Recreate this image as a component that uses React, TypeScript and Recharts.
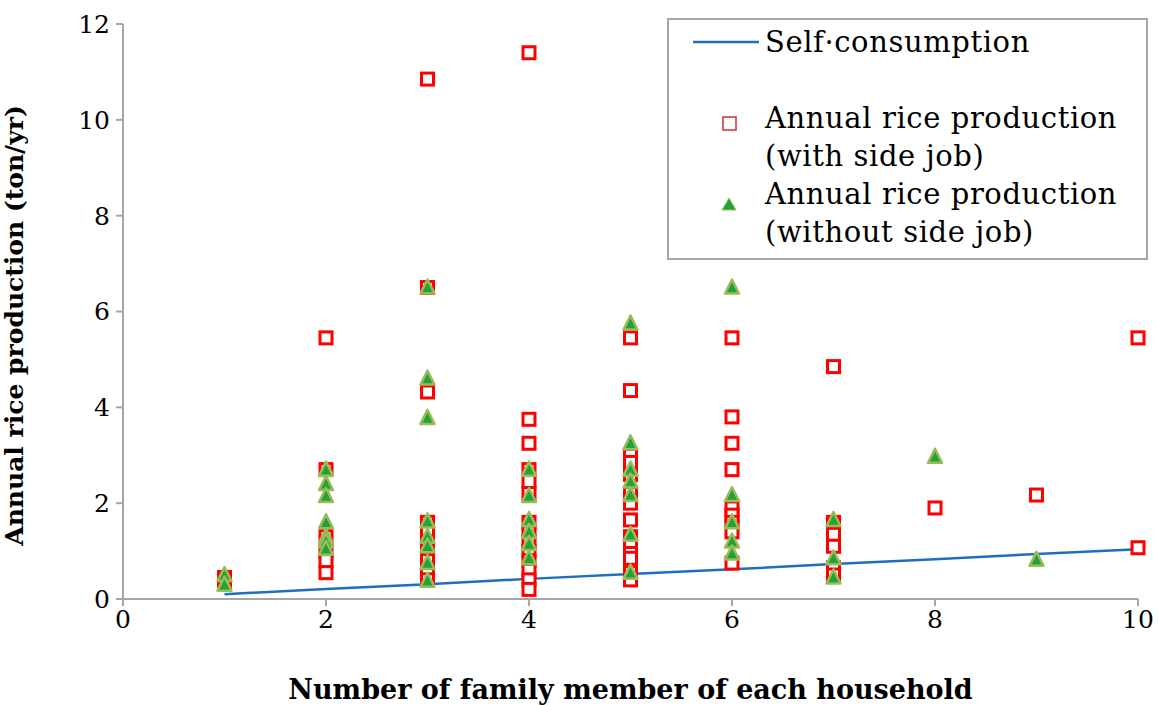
import React from 'react'
import { ScatterChart, Scatter, XAxis, YAxis, Label } from 'recharts'

// household size vs annual rice production (ton/yr)
const withSideJob = [
  { x: 1, y: 0.45 }, { x: 1, y: 0.35 },
  { x: 2, y: 5.45 }, { x: 2, y: 2.7 }, { x: 2, y: 1.3 }, { x: 2, y: 1.0 }, { x: 2, y: 0.8 }, { x: 2, y: 0.55 },
  { x: 3, y: 10.85 }, { x: 3, y: 6.5 }, { x: 3, y: 4.32 }, { x: 3, y: 1.6 }, { x: 3, y: 1.4 }, { x: 3, y: 1.2 },
  { x: 3, y: 1.0 }, { x: 3, y: 0.8 }, { x: 3, y: 0.6 }, { x: 3, y: 0.4 },
  { x: 4, y: 11.4 }, { x: 4, y: 3.75 }, { x: 4, y: 3.25 }, { x: 4, y: 2.7 }, { x: 4, y: 2.45 }, { x: 4, y: 2.2 },
  { x: 4, y: 1.6 }, { x: 4, y: 1.4 }, { x: 4, y: 1.2 }, { x: 4, y: 1.0 }, { x: 4, y: 0.8 }, { x: 4, y: 0.6 },
  { x: 4, y: 0.4 }, { x: 4, y: 0.2 },
  { x: 5, y: 5.45 }, { x: 5, y: 4.35 }, { x: 5, y: 3.0 }, { x: 5, y: 2.85 }, { x: 5, y: 2.6 }, { x: 5, y: 2.2 },
  { x: 5, y: 2.0 }, { x: 5, y: 1.65 }, { x: 5, y: 1.3 }, { x: 5, y: 1.1 }, { x: 5, y: 0.95 }, { x: 5, y: 0.85 },
  { x: 5, y: 0.55 }, { x: 5, y: 0.4 },
  { x: 6, y: 5.45 }, { x: 6, y: 3.8 }, { x: 6, y: 3.25 }, { x: 6, y: 2.7 }, { x: 6, y: 1.9 }, { x: 6, y: 1.75 },
  { x: 6, y: 1.6 }, { x: 6, y: 1.4 }, { x: 6, y: 0.75 },
  { x: 7, y: 4.85 }, { x: 7, y: 1.6 }, { x: 7, y: 1.35 }, { x: 7, y: 1.1 }, { x: 7, y: 0.65 }, { x: 7, y: 0.5 },
  { x: 8, y: 1.9 },
  { x: 9, y: 2.17 },
  { x: 10, y: 5.45 }, { x: 10, y: 1.07 },
]

const withoutSideJob = [
  { x: 1, y: 0.5 }, { x: 1, y: 0.3 },
  { x: 2, y: 2.7 }, { x: 2, y: 2.4 }, { x: 2, y: 2.15 }, { x: 2, y: 1.6 }, { x: 2, y: 1.3 }, { x: 2, y: 1.2 }, { x: 2, y: 1.05 },
  { x: 3, y: 6.5 }, { x: 3, y: 4.6 }, { x: 3, y: 3.78 }, { x: 3, y: 1.62 }, { x: 3, y: 1.3 }, { x: 3, y: 1.1 },
  { x: 3, y: 0.75 }, { x: 3, y: 0.38 },
  { x: 4, y: 2.7 }, { x: 4, y: 2.15 }, { x: 4, y: 1.65 }, { x: 4, y: 1.4 }, { x: 4, y: 1.15 }, { x: 4, y: 0.85 },
  { x: 5, y: 5.75 }, { x: 5, y: 3.25 }, { x: 5, y: 2.7 }, { x: 5, y: 2.45 }, { x: 5, y: 2.17 }, { x: 5, y: 1.34 },
  { x: 5, y: 0.55 },
  { x: 6, y: 6.5 }, { x: 6, y: 2.17 }, { x: 6, y: 1.6 }, { x: 6, y: 1.2 }, { x: 6, y: 0.95 },
  { x: 7, y: 1.65 }, { x: 7, y: 0.85 }, { x: 7, y: 0.45 },
  { x: 8, y: 2.97 },
  { x: 9, y: 0.82 },
]

const members = [1, 2, 3, 4, 5, 6, 7, 8, 9, 10]
const selfConsumption = [0.1, 0.21, 0.31, 0.42, 0.52, 0.62, 0.73, 0.83, 0.94, 1.04]
const consumptionLine = members.map((m, i) => ({ x: m, y: selfConsumption[i] }))

const xTicks = [0, 2, 4, 6, 8, 10]
const yTicks = [0, 2, 4, 6, 8, 10, 12]

const FONT = '"DejaVu Serif", "Liberation Serif", serif'
const RED = '#ff0000'
const GREEN = '#22a33a'
const OLIVE = '#9bbb59'
const BLUE = '#1f6fc0'

const Square = (props: any) => {
  const { cx, cy } = props
  if (cx == null || cy == null) return null
  return <rect x={cx - 6} y={cy - 6} width={12} height={12} fill="#fff" stroke={RED} strokeWidth={3} />
}

const Triangle = (props: any) => {
  const { cx, cy } = props
  if (cx == null || cy == null) return null
  return (
    <path
      d={`M${cx},${cy - 8} L${cx + 7},${cy + 6} L${cx - 7},${cy + 6} Z`}
      fill={GREEN}
      stroke={OLIVE}
      strokeWidth={2.5}
      strokeLinejoin="round"
    />
  )
}

const NoDot = () => null

// legend box drawn on top of the plot, like the original
const LegendBox = () => (
  <div
    style={{
      position: 'absolute',
      left: 667,
      top: 18,
      border: '2px solid #a6a6a6',
      background: '#fff',
      width: 481,
      height: 242,
      boxSizing: 'border-box',
      fontFamily: FONT,
      fontSize: 29,
      letterSpacing: 0.6,
      color: '#000',
    }}
  >
    <svg width={90} height={238} style={{ position: 'absolute', left: 0, top: 0 }}>
      <line x1={24} y1={22} x2={92} y2={22} stroke={BLUE} strokeWidth={2.5} />
      <rect x={54} y={97} width={13} height={13} fill="#fff" stroke="#d03030" strokeWidth={1.5} />
      <path d="M60,178 L67,190 L53,190 Z" fill={GREEN} stroke={OLIVE} strokeWidth={1} />
    </svg>
    <div style={{ position: 'absolute', left: 96, top: 3, lineHeight: '38px' }}>
      <div>Self·consumption</div>
      <div style={{ height: 38 }} />
      <div>Annual rice production</div>
      <div>(with side job)</div>
      <div>Annual rice production</div>
      <div>(without side job)</div>
    </div>
  </div>
)

export default function App() {
  return (
    <div style={{ position: 'absolute', left: 0, top: 0, width: 1159, height: 705, background: '#fff' }}>
      <ScatterChart width={1159} height={705} margin={{ top: 24, right: 21, bottom: 0, left: 0 }}>
        <XAxis
          type="number"
          dataKey="x"
          domain={[0, 10]}
          ticks={xTicks}
          height={106}
          stroke="#a6a6a6"
          strokeWidth={2}
          tickSize={7}
          tick={{ fill: '#000', fontSize: 25, fontFamily: FONT }}
          tickMargin={4}
        >
          <Label
            value="Number of family member of each household"
            position="insideBottom"
            offset={6}
            style={{ fill: '#000', fontSize: 27, fontWeight: 'bold', fontFamily: FONT }}
          />
        </XAxis>
        <YAxis
          type="number"
          dataKey="y"
          domain={[0, 12]}
          ticks={yTicks}
          width={123}
          stroke="#a6a6a6"
          strokeWidth={2}
          tickSize={7}
          tickMargin={6}
          tick={{ fill: '#000', fontSize: 25, fontFamily: FONT }}
        >
          <Label
            value="Annual rice production (ton/yr)"
            angle={-90}
            position="insideLeft"
            offset={14}
            dy={14}
            style={{ fill: '#000', fontSize: 25, fontWeight: 'bold', fontFamily: FONT, textAnchor: 'middle' }}
          />
        </YAxis>
        <Scatter
          name="Self·consumption"
          data={consumptionLine}
          line={{ stroke: BLUE, strokeWidth: 2.5 }}
          shape={NoDot}
          isAnimationActive={false}
        />
        <Scatter name="with side job" data={withSideJob} shape={Square} isAnimationActive={false} />
        <Scatter name="without side job" data={withoutSideJob} shape={Triangle} isAnimationActive={false} />
      </ScatterChart>
      <LegendBox />
    </div>
  )
}
